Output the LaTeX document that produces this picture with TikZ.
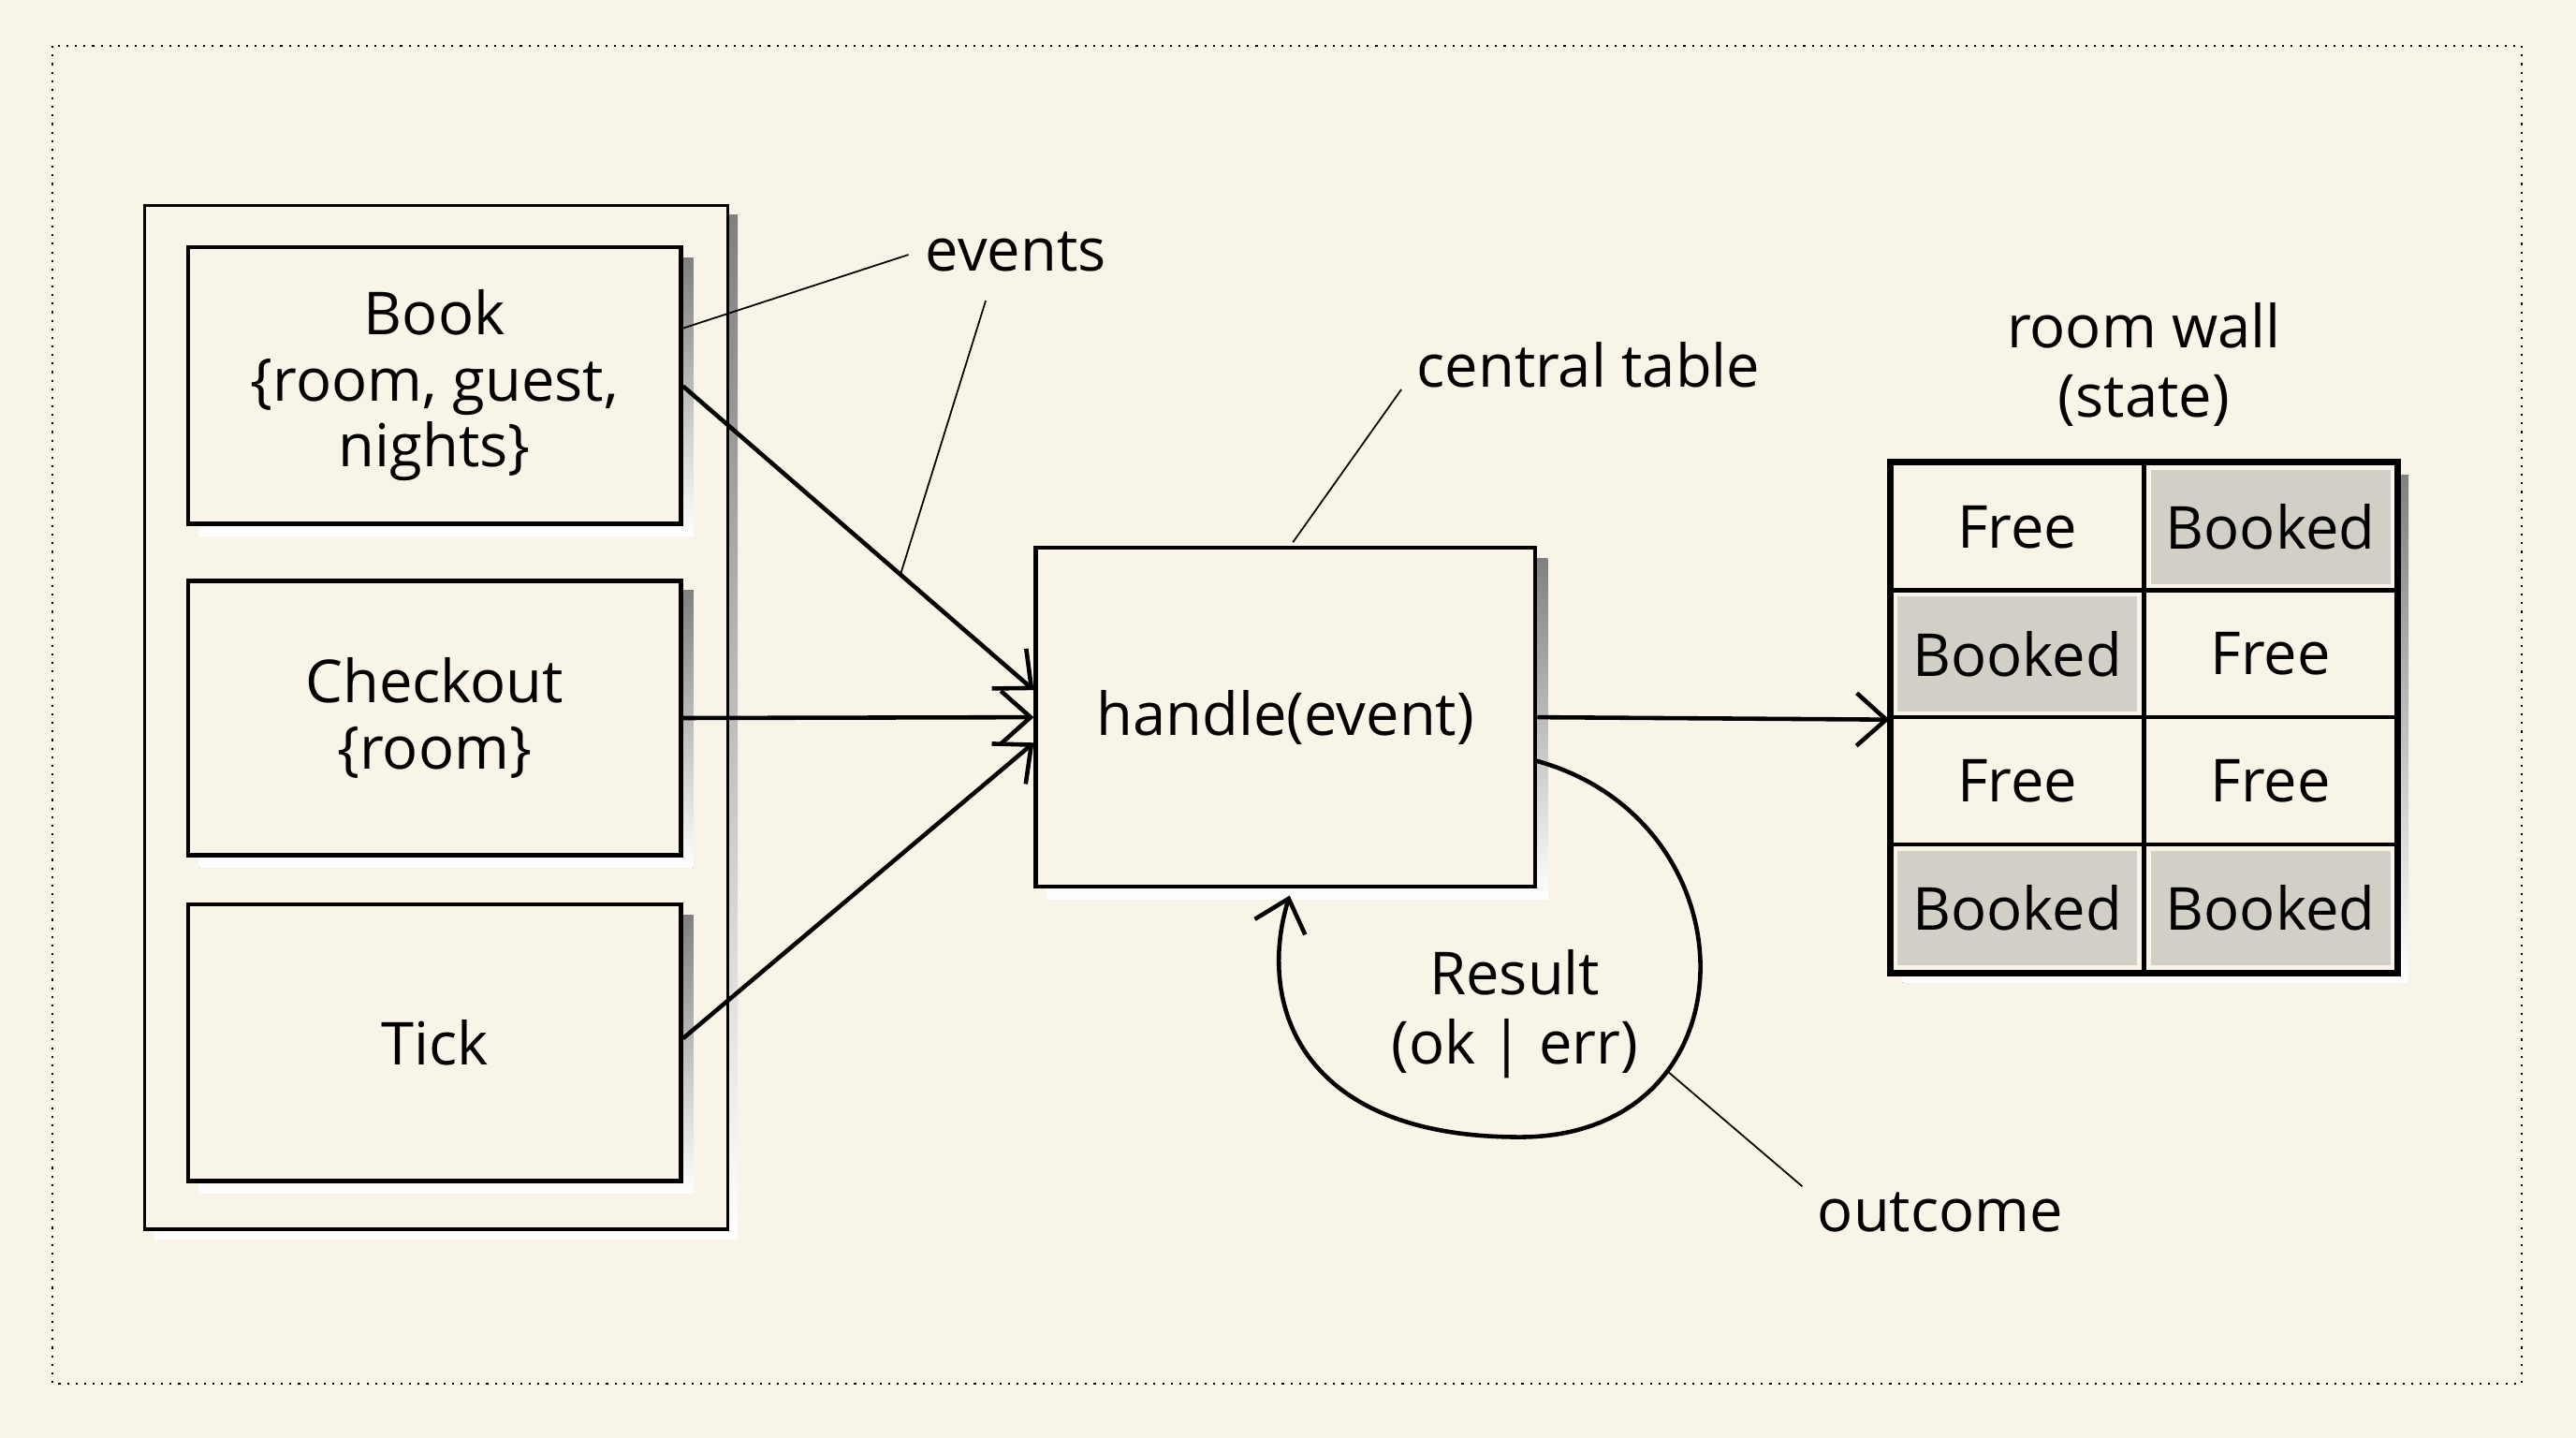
\documentclass[tikz,border=0pt]{standalone}
\usepackage{fontspec}
\setmainfont{Open Sans}
\usetikzlibrary{arrows.meta,positioning,calc}
\definecolor{paper}{HTML}{F8F4E8}
\definecolor{shade}{HTML}{D4D1C8}
\definecolor{cellgray}{HTML}{D2CFC6}
\tikzset{
  box/.style={draw, line width=1.3pt, fill=paper, inner sep=0pt, align=center,
    font=\fontsize{18}{20}\selectfont},
  cell/.style={draw, line width=1.2pt, fill=paper, inner sep=0pt,
    minimum width=76.6pt, minimum height=38.7pt, font=\fontsize{18}{20}\selectfont},
  flow/.style={line width=1.3pt, -{Straight Barb[length=9pt,width=16pt,line width=1.3pt]}},
  callout/.style={line width=0.5pt},
  lbl/.style={font=\fontsize{18}{21}\selectfont, align=center, inner sep=0pt},
}
\begin{document}
\begin{tikzpicture}[x=0.01755cm, y=-0.01755cm]
  \useasboundingbox[fill=paper] (0,0) rectangle (1568,875);
  \draw[dotted, line width=0.6pt] (32,28) rectangle (1535,842);
  % event group
  \fill[shade] (94,131) rectangle (449,754);
  \draw[line width=1pt, fill=paper] (88,125) rectangle (443,748);
  \foreach \y in {235,437,635} \fill[shade] (121,\y-78) rectangle (422,\y+91);
  \node[box, minimum width=149.7pt, minimum height=84pt] (book) at (264.5,234.5)
    {Book\\\{room, guest,\\nights\}};
  \node[box, minimum width=149.7pt, minimum height=83.5pt] (checkout) at (264.5,437)
    {Checkout\\\{room\}};
  \node[box, minimum width=149.7pt, minimum height=84pt] (tick) at (264.5,634.5) {Tick};
  % handler
  \fill[shade] (637,340) rectangle (942,547);
  \node[box, minimum width=151.7pt, minimum height=103pt] (handle) at (782.5,436.5) {handle(event)};
  % room wall
  \fill[shade] (1158,289) rectangle (1466,598);
  \foreach \r/\a/\b in {1/Free/Booked, 2/Booked/Free, 3/Free/Free, 4/Booked/Booked}{
    \node[cell] (c\r a) at (1228,282+77.3*\r-38.6) {\a};
    \node[cell] (c\r b) at (1382,282+77.3*\r-38.6) {\b};
  }
  \foreach \n in {c1b,c2a,c4a,c4b} \fill[cellgray] ($(\n.north west)+(5,5)$) rectangle ($(\n.south east)+(-5,-5)$);
  \foreach \n/\t in {c1b/Booked,c2a/Booked,c4a/Booked,c4b/Booked} \node[lbl] at (\n) {\t};
  \draw[line width=1.6pt] (c1a.north west) rectangle (c4b.south east);
  \node[lbl] (wall) at (1305,222) {room wall\\(state)};
  % connectors
  \draw[flow] (book.east |- 0,235) -- (handle.west |- 0,420);
  \draw[flow] (checkout.east) -- (handle.west);
  \draw[flow] (tick.east |- 0,632) -- (handle.west |- 0,452);
  \draw[flow] (handle.east) -- (c2a.south west);
  \coordinate (loopa) at (935,463);
  \coordinate (loopb) at (785,545);
  \draw[flow] (loopa) .. controls (1070,500) and (1070,692) .. (925,692)
    .. controls (790,692) and (765,610) .. (loopb);
  \node[lbl] (result) at (922,617) {Result\\(ok | err)};
  % callouts
  \node[lbl, anchor=west] (events) at (563,153) {events};
  \draw[callout] (415,200) -- (553,155);
  \draw[callout] (600,183) -- (548,350);
  \node[lbl, anchor=west] (central) at (862,222) {central table};
  \draw[callout] (853,237) -- (787,330);
  \node[lbl, anchor=west] (outcome) at (1106,738) {outcome};
  \draw[callout] (1097,722) -- (1015,652);
\end{tikzpicture}
\end{document}
